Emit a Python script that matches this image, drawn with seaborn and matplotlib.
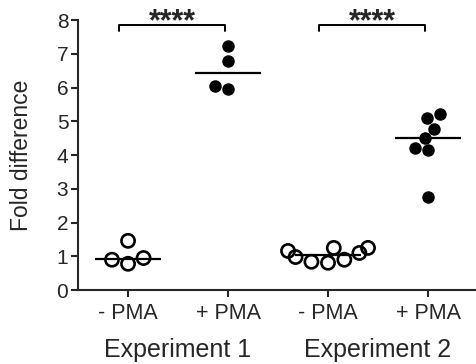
import matplotlib
matplotlib.use("Agg")
import matplotlib.pyplot as plt
import matplotlib.transforms as mtransforms
import numpy as np
import pandas as pd
import seaborn as sns

# values
exp1_minus = [0.95, 1.46, 0.78, 0.90]
exp1_plus = [7.22, 6.78, 5.97, 6.06]
exp2_minus = [1.25, 1.16, 0.98, 0.84, 0.81, 0.90, 1.10, 1.25]
exp2_plus = [5.22, 5.10, 4.78, 4.51, 4.21, 4.15, 2.75]

groups = ["Exp1 -PMA", "Exp1 +PMA", "Exp2 -PMA", "Exp2 +PMA"]
tick_labels = ["- PMA", "+ PMA", "- PMA", "+ PMA"]
experiments = ["Experiment 1", "Experiment 2"]
sig_text = "****"

df = pd.DataFrame({
    "group": [groups[0]] * len(exp1_minus) + [groups[1]] * len(exp1_plus)
    + [groups[2]] * len(exp2_minus) + [groups[3]] * len(exp2_plus),
    "value": exp1_minus + exp1_plus + exp2_minus + exp2_plus,
})
df["treated"] = df["group"].str.contains(r"\+")

sns.set_style("ticks")
plt.rcParams["font.family"] = ["Liberation Sans", "DejaVu Sans"]

fig = plt.figure(figsize=(4.76, 3.64), dpi=100)
ax = fig.add_axes([0.164, 0.203, 0.836, 0.742])

# median lines
sns.boxplot(data=df, x="group", y="value", order=groups, ax=ax, width=0.66,
            showbox=False, showcaps=False, showfliers=False,
            whiskerprops={"visible": False},
            medianprops={"color": "black", "linewidth": 1.6})

# open circles for untreated
sns.swarmplot(data=df[~df["treated"]], x="group", y="value", order=groups,
              ax=ax, color="white", edgecolor="black", linewidth=1.9, size=9.5)
for coll in ax.collections:
    coll.set_facecolor("none")
# filled dots for PMA treated
sns.swarmplot(data=df[df["treated"]], x="group", y="value", order=groups,
              ax=ax, color="black", size=9)

ax.set_ylim(0, 8)
ax.set_xlim(-0.5, 3.48)
ax.set_yticks(range(0, 9))
ax.set_xticks(range(4))
ax.set_xticklabels(tick_labels, fontsize=15.5)
ax.tick_params(axis="y", labelsize=15, width=1.5, length=5, pad=2)
ax.tick_params(axis="x", width=1.5, length=5, pad=4)
ax.set_xlabel("")
ax.set_ylabel("Fold difference", fontsize=16.5)
ax.yaxis.set_label_coords(-0.113, 0.5)
for s in ["left", "bottom"]:
    ax.spines[s].set_linewidth(1.5)
sns.despine(ax=ax)

# experiment labels
trans = mtransforms.blended_transform_factory(ax.transData, ax.transAxes)
for i, name in enumerate(experiments):
    ax.text(2 * i + 0.5, -0.22, name, transform=trans, ha="center",
            va="center", fontsize=18)

# significance brackets
for i in range(2):
    x0, x1 = 2 * i - 0.09, 2 * i + 0.97
    ax.plot([x0, x0, x1, x1], [7.67, 7.85, 7.85, 7.67], color="black",
            linewidth=1.4, clip_on=False)
    ax.text((x0 + x1) / 2, 7.7, sig_text, ha="center", va="baseline",
            fontsize=22, fontweight="bold", clip_on=False)

fig.savefig("out.png", dpi=100)
